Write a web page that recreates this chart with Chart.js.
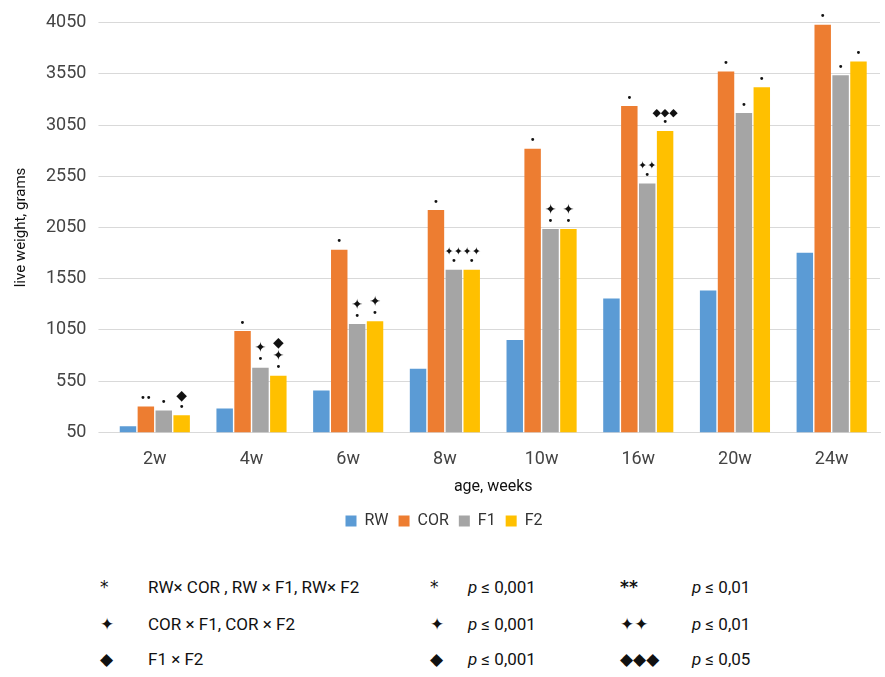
<!DOCTYPE html>
<html><head><meta charset="utf-8">
<script src="https://cdn.jsdelivr.net/npm/chart.js@4/dist/chart.umd.min.js"></script>
<style>
body{margin:0;background:#fff;font-family:Roboto,"Liberation Sans",sans-serif;}
#wrap{position:absolute;left:0;top:0;width:885px;height:545px;}
.t{position:absolute;font-size:17px;color:#111;white-space:nowrap;}
</style></head><body>
<div id="wrap"><canvas id="c"></canvas></div>
<div id="tbl"></div>
<script>
const categories=["2w","4w","6w","8w","10w","16w","20w","24w"];
const RW=[108,282,457,670,951,1357,1435,1803];
const COR=[302,1038,1832,2220,2820,3236,3575,4030];
const F1=[263,680,1106,1638,2035,2481,3169,3537];
const F2=[215,602,1135,1638,2035,2994,3420,3672];
const yTicks=[50,550,1050,1550,2050,2550,3050,3550,4050];
// [category index, dataset index, stacked marks top->bottom]
const marks=[
[0,1,["••"]],[0,2,["•"]],[0,3,["◆","•"]],
[1,1,["•"]],[1,2,["✦","•"]],[1,3,["◆","✦","•"]],
[2,1,["•"]],[2,2,["✦","•"]],[2,3,["✦","•"]],
[3,1,["•"]],[3,2,["✦✦","•"]],[3,3,["✦✦","•"]],
[4,1,["•"]],[4,2,["✦","•"]],[4,3,["✦","•"]],
[5,1,["•"]],[5,2,["✦✦","•"]],[5,3,["◆◆◆","•"]],
[6,1,["•"]],[6,2,["•"]],[6,3,["•"]],
[7,1,["•"]],[7,2,["•"]],[7,3,["•"]]
];
const markPlugin={id:"marks",afterDatasetsDraw(ch){
 const ctx=ch.ctx;ctx.save();ctx.fillStyle="#111";ctx.textAlign="center";ctx.textBaseline="bottom";
 marks.forEach(([ci,di,arr])=>{
  const el=ch.getDatasetMeta(di).data[ci];let y=el.y-3;
  for(let k=arr.length-1;k>=0;k--){const s=arr[k];
   ctx.font=(s.includes("•")?"10px":(s.length>1?"11px":"14px"))+" DejaVu Sans";
   ctx.fillText(s,el.x,y);y-=(s.includes("•")?9:13);}
 });ctx.restore();}};
new Chart(document.getElementById("c"),{type:"bar",
 data:{labels:categories,datasets:[
  {label:"RW",data:RW,backgroundColor:"#5B9BD5"},
  {label:"COR",data:COR,backgroundColor:"#ED7D31"},
  {label:"F1",data:F1,backgroundColor:"#A5A5A5"},
  {label:"F2",data:F2,backgroundColor:"#FFC000"}]},
 options:{responsive:true,maintainAspectRatio:false,animation:false,
  layout:{padding:{left:8,right:5,top:14,bottom:6}},
  datasets:{bar:{categoryPercentage:0.74,barPercentage:0.92}},
  plugins:{legend:{position:"bottom",labels:{boxWidth:11,boxHeight:11,color:"#333",font:{size:16,family:"Roboto"},padding:10}},tooltip:{enabled:false}},
  scales:{
   x:{grid:{display:false},border:{color:"#d9d9d9"},ticks:{color:"#444",font:{size:18,family:"Roboto"},padding:8},
      title:{display:true,text:"age, weeks",color:"#111",font:{size:16,family:"Roboto"},padding:{top:0,bottom:6}}},
   y:{min:50,max:4050,afterBuildTicks(s){s.ticks=yTicks.map(v=>({value:v}));},
      grid:{color:"#d9d9d9"},border:{display:false},ticks:{color:"#444",font:{size:18,family:"Roboto"},padding:12,callback:v=>String(v)},
      title:{display:true,text:"live weight, grams",color:"#111",font:{size:15,family:"Roboto"}}}
  }},plugins:[markPlugin]});
const rows=[
 [588,"*","RW× COR , RW × F1, RW× F2","*","p ≤ 0,001","**","p ≤ 0,01"],
 [625,"✦","COR × F1, COR × F2","✦","p ≤ 0,001","✦✦","p ≤ 0,01"],
 [660,"◆","F1 × F2","◆","p ≤ 0,001","◆◆◆","p ≤ 0,05"]];
let h="";rows.forEach(r=>{
 h+=`<div class="t" style="left:100px;top:${r[0]-11}px;font-family:'DejaVu Sans'">${r[1]}</div>`;
 h+=`<div class="t" style="left:148px;top:${r[0]-11}px">${r[2]}</div>`;
 h+=`<div class="t" style="left:430px;top:${r[0]-11}px;font-family:'DejaVu Sans'">${r[3]}</div>`;
 h+=`<div class="t" style="left:468px;top:${r[0]-11}px"><i>p</i>${r[4].slice(1)}</div>`;
 h+=`<div class="t" style="left:620px;top:${r[0]-11}px;font-family:'DejaVu Sans';font-weight:bold">${r[5]}</div>`;
 h+=`<div class="t" style="left:692px;top:${r[0]-11}px"><i>p</i>${r[6].slice(1)}</div>`;});
document.getElementById("tbl").innerHTML=h;
</script></body></html>
